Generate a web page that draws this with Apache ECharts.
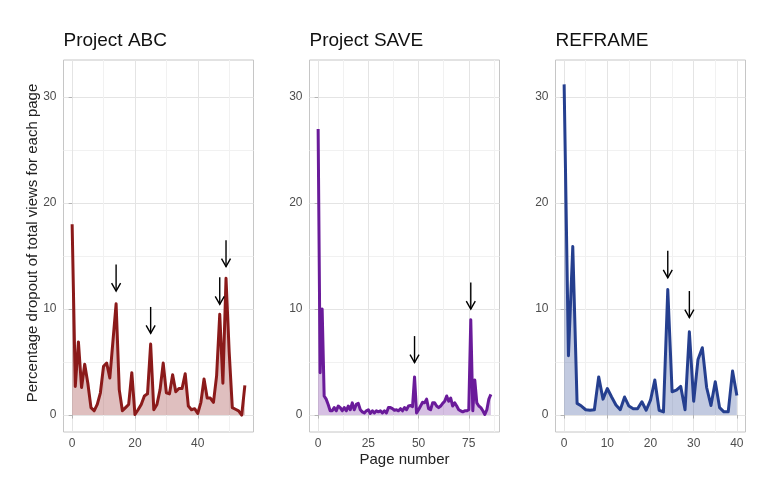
<!DOCTYPE html>
<html><head><meta charset="utf-8">
<script src="https://cdn.jsdelivr.net/npm/echarts@6/dist/echarts.min.js"></script>
<style>html,body{margin:0;padding:0;background:#fff}#c{width:774px;height:490px}</style>
</head><body><div id="c"></div>
<script>
// ---- data ----
const panelTitles = ['Project ABC', 'Project SAVE', 'REFRAME'];
const abcValues = [18, 2.7, 6.9, 2.6, 4.8, 3.0, 0.7, 0.4, 1.0, 2.1,
  4.6, 4.9, 3.5, 7.0, 10.5, 2.4, 0.4, 0.7, 1.0, 4.0,
  0.05, 0.5, 1.0, 1.8, 2.0, 6.7, 0.5, 1.0, 2.4, 4.9,
  2.1, 2.0, 3.8, 2.2, 2.5, 2.5, 3.9, 0.85, 0.5, 0.6,
  0.15, 1.2, 3.4, 1.6, 1.6, 1.2, 3.7, 9.5, 3.0, 12.9,
  6.0, 0.7, 0.55, 0.4, 0.0, 2.8];
const saveValues = [27, 4.0, 10.0, 1.8, 1.5, 1.0, 0.4, 0.4, 0.7, 0.4,
  0.85, 0.7, 0.4, 0.7, 0.4, 0.85, 0.5, 1.15, 0.5, 1.0,
  1.1, 0.5, 0.3, 0.2, 0.4, 0.5, 0.15, 0.4, 0.2, 0.4,
  0.3, 0.4, 0.2, 0.4, 0.2, 0.7, 0.7, 0.6, 0.45, 0.5,
  0.4, 0.6, 0.4, 0.7, 0.5, 0.85, 0.9, 0.8, 3.6, 0.2,
  0.5, 0.85, 1.2, 1.15, 1.5, 0.6, 0.5, 1.15, 1.15, 0.85,
  0.7, 0.85, 1.1, 1.3, 1.8, 1.3, 1.6, 0.85, 1.15, 0.85,
  0.5, 0.4, 0.3, 0.4, 0.4, 0.5, 9.0, 0.4, 3.3, 1.15,
  0.85, 0.7, 0.4, 0.05, 0.5, 1.5, 1.95];
const reframeValues = [31.2, 5.6, 15.9, 1.1, 0.85, 0.5, 0.45, 0.5, 3.6, 1.5,
  2.5, 1.7, 0.95, 0.5, 1.7, 0.85, 0.6, 0.6, 1.25, 0.45,
  1.4, 3.3, 0.45, 0.3, 11.85, 2.2, 2.35, 2.7, 0.5, 7.85,
  1.3, 5.25, 6.35, 2.6, 0.9, 3.15, 0.7, 0.3, 0.3, 4.15, 1.85];
// arrows: [page, y start, y end]
const abcArrows = [[14, 14.2, 11.7], [25, 10.2, 7.7], [47, 13.0, 10.45], [49, 16.5, 14.0]];
const saveArrows = [[48, 7.45, 4.95], [76, 12.5, 10.0]];
const reframeArrows = [[24, 15.5, 12.95], [29, 11.7, 9.2]];
// tick labels
const yTicks = [0, 10, 20, 30];
const yMinorTicks = [5, 15, 25];
const abcXTicks = [0, 20, 40];
const abcXMinor = [10, 30, 50];
const saveXTicks = [0, 25, 50, 75];
const saveXMinor = [12.5, 37.5, 62.5, 87.5];
const reframeXTicks = [0, 10, 20, 30, 40];
const reframeXMinor = [5, 15, 25, 35];
const yAxisTitle = 'Percentage dropout of total views for each page';
const xAxisTitle = 'Page number';

// ---- styling / layout ----
const FONT = '"Liberation Sans", Arial, sans-serif';
const colors = ['#8B1A1A', '#6A1B9A', '#253F8F'];
const fills = ['rgba(139,26,26,0.4)', 'rgba(106,27,154,0.4)', 'rgba(37,63,143,0.4)'];
const panels = [
  {values: abcValues, arrows: abcArrows, ticks: abcXTicks, minor: abcXMinor, min: -2.75, max: 57.75, left: 63.5},
  {values: saveValues, arrows: saveArrows, ticks: saveXTicks, minor: saveXMinor, min: -4.3, max: 90.3, left: 309.5},
  {values: reframeValues, arrows: reframeArrows, ticks: reframeXTicks, minor: reframeXMinor, min: -2, max: 42, left: 555.5}
];
const TOP = 60, H = 372, W = 190, YMIN = -1.6, YMAX = 33.5;

const grid = [], xAxis = [], yAxis = [], series = [], graphic = [];
panels.forEach((p, i) => {
  grid.push({left: p.left, top: TOP, width: W, height: H, show: true, borderColor: '#c6c6c6', borderWidth: 1,
    backgroundColor: 'transparent', containLabel: false, outerBoundsMode: 'none'});
  xAxis.push({type: 'value', gridIndex: i, min: p.min, max: p.max, position: 'bottom',
    axisLine: {show: false},
    axisTick: {show: true, length: 3.5, customValues: p.ticks, lineStyle: {color: '#b3b3b3', width: 1}},
    axisLabel: {show: true, customValues: p.ticks, color: '#4d4d4d', fontSize: 12, fontFamily: FONT, margin: 6},
    splitLine: {show: true, lineStyle: {color: '#e4e4e4', width: 1}}
  });
  yAxis.push({type: 'value', gridIndex: i, min: YMIN, max: YMAX, position: 'left',
    axisLine: {show: false},
    axisTick: {show: true, length: 3.5, customValues: yTicks, lineStyle: {color: '#b3b3b3', width: 1}},
    axisLabel: {show: true, customValues: yTicks, color: '#4d4d4d', fontSize: 12, fontFamily: FONT, margin: 7},
    splitLine: {show: true, lineStyle: {color: '#e4e4e4', width: 1}}
  });
  graphic.push({type: 'text', left: p.left, top: 31, style: {text: panelTitles[i], font: '19px ' + FONT, fill: '#111'}});
});
panels.forEach((p, i) => {
  xAxis.push({type: 'value', gridIndex: i, min: p.min, max: p.max, position: 'top',
    axisLine: {show: false}, axisLabel: {show: false},
    axisTick: {show: false, customValues: p.minor},
    splitLine: {show: true, lineStyle: {color: '#f1f1f1', width: 1}}
  });
  yAxis.push({type: 'value', gridIndex: i, min: YMIN, max: YMAX, position: 'right',
    axisLine: {show: false}, axisLabel: {show: false},
    axisTick: {show: false, customValues: yMinorTicks},
    splitLine: {show: true, lineStyle: {color: '#f1f1f1', width: 1}}
  });
});
panels.forEach((p, i) => {
  series.push({type: 'line', xAxisIndex: i, yAxisIndex: i, symbol: 'none', silent: true, animation: false,
    data: p.values.map((v, k) => [k, v]),
    lineStyle: {color: colors[i], width: 3, join: 'round', cap: 'butt'},
    areaStyle: {color: fills[i], origin: 0},
    z: 2
  });
  series.push({type: 'custom', xAxisIndex: i, yAxisIndex: i, silent: true, animation: false,
    encode: {x: 0, y: [1, 2]}, data: p.arrows, z: 3,
    renderItem: function (params, api) {
      const a = api.coord([api.value(0), api.value(1)]);
      const b = api.coord([api.value(0), api.value(2)]);
      return {type: 'group', children: [
        {type: 'line', shape: {x1: a[0], y1: a[1], x2: b[0], y2: b[1]}, style: {stroke: '#000', lineWidth: 1.4}},
        {type: 'polyline', shape: {points: [[b[0] - 4.5, b[1] - 8], [b[0], b[1]], [b[0] + 4.5, b[1] - 8]]},
          style: {stroke: '#000', fill: null, lineWidth: 1.4}}
      ]};
    }
  });
});
graphic.push({type: 'text', x: 33, y: 243, rotation: Math.PI / 2,
  style: {text: yAxisTitle, font: '15px ' + FONT, fill: '#222', align: 'center', verticalAlign: 'middle'}});
graphic.push({type: 'text', x: 404.5, y: 460,
  style: {text: xAxisTitle, font: '15px ' + FONT, fill: '#222', align: 'center', verticalAlign: 'middle'}});

const chart = echarts.init(document.getElementById('c'), null, {renderer: 'canvas'});
chart.setOption({animation: false, backgroundColor: '#fff', grid, xAxis, yAxis, series, graphic});
</script></body></html>
